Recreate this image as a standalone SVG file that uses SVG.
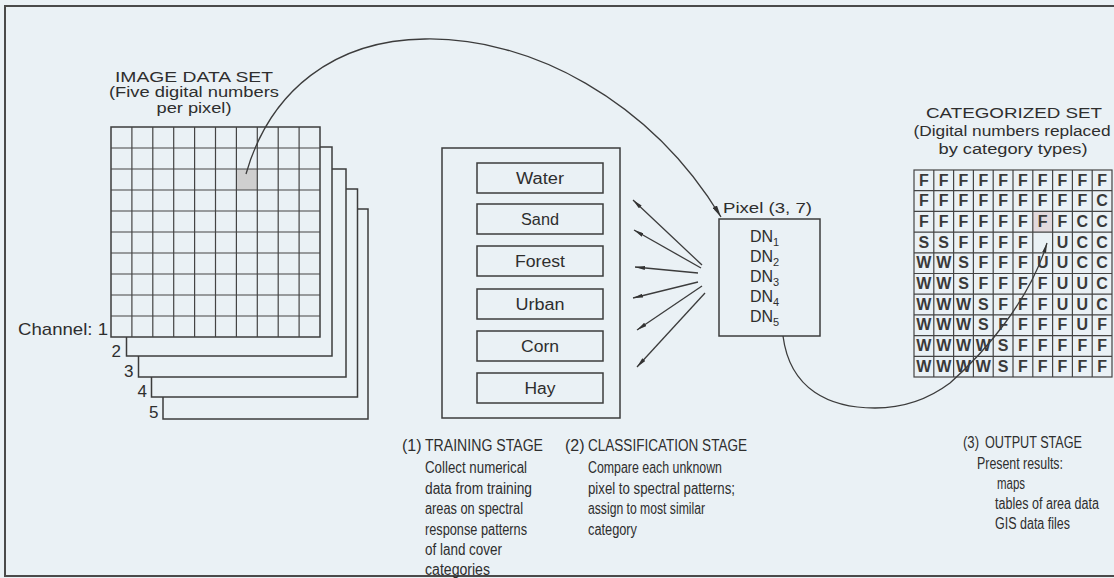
<svg xmlns="http://www.w3.org/2000/svg" width="1114" height="578" viewBox="0 0 1114 578">
<defs>
<style>
.t{font-family:"Liberation Sans",Arial,sans-serif;fill:#2e2e2e;}
.h{font-size:15.5px}
.b{font-size:16px}
.lb{font-size:16px}
.g{font-size:16px;font-weight:bold;fill:#3a3a3a;text-anchor:middle}
.ln{fill:none;stroke:#3c3c3c;stroke-width:1.3}
.box{fill:#eaf1f5;stroke:#3c3c3c;stroke-width:1.5}
.gl{fill:none;stroke:#444;stroke-width:1.2}
.c{text-anchor:middle}
</style>
<marker id="ah" viewBox="0 0 10 4" refX="10" refY="2" markerWidth="10" markerHeight="4" markerUnits="userSpaceOnUse" orient="auto">
<path d="M0,0 L10,2 L0,4 z" fill="#333"/>
</marker>
<marker id="ahB" viewBox="0 0 12 5" refX="12" refY="2.5" markerWidth="12" markerHeight="5" markerUnits="userSpaceOnUse" orient="auto">
<path d="M0,0 L12,2.5 L0,5 z" fill="#333"/>
</marker>
</defs>
<rect x="0" y="0" width="1114" height="578" fill="#eaf1f5"/>
<rect x="5" y="6" width="1125" height="570" fill="none" stroke="#4a4a4a" stroke-width="2"/>

<g id="image-data-set">
<text class="t h c" x="194" y="82" textLength="158" lengthAdjust="spacingAndGlyphs">IMAGE DATA SET</text>
<text class="t h c" x="194" y="97" textLength="170" lengthAdjust="spacingAndGlyphs">(Five digital numbers</text>
<text class="t h c" x="194" y="113" textLength="75" lengthAdjust="spacingAndGlyphs">per pixel)</text>
<rect class="box" x="163" y="209" width="205" height="210"/>
<rect class="box" x="151.5" y="189" width="206" height="208"/>
<rect class="box" x="138.5" y="169" width="207.5" height="208"/>
<rect class="box" x="126.5" y="147" width="205.5" height="209"/>
<rect class="box" x="111" y="127" width="209" height="210"/>
<rect x="236.4" y="169" width="20.9" height="21" fill="#cfcfcf"/>
<path class="gl" d="M131.9 127V337M152.8 127V337M173.7 127V337M194.6 127V337M215.5 127V337M236.4 127V337M257.3 127V337M278.2 127V337M299.1 127V337M111 148H320M111 169H320M111 190H320M111 211H320M111 232H320M111 253H320M111 274H320M111 295H320M111 316H320"/>
<text class="t" x="18" y="335" font-size="17" textLength="90" lengthAdjust="spacingAndGlyphs">Channel: 1</text>
<text class="t" x="121" y="357" font-size="17" text-anchor="end">2</text>
<text class="t" x="133.5" y="377" font-size="17" text-anchor="end">3</text>
<text class="t" x="147" y="397" font-size="17" text-anchor="end">4</text>
<text class="t" x="158.5" y="418" font-size="17" text-anchor="end">5</text>
</g>

<g id="training-set">
<rect class="box" x="442" y="148" width="178" height="270"/>
<rect class="box" x="477" y="163" width="126" height="30"/>
<rect class="box" x="477" y="204" width="126" height="30"/>
<rect class="box" x="477" y="246" width="126" height="30"/>
<rect class="box" x="477" y="289" width="126" height="30"/>
<rect class="box" x="477" y="331" width="126" height="30"/>
<rect class="box" x="477" y="373" width="126" height="30"/>
<text class="t lb c" x="540" y="184" textLength="48" lengthAdjust="spacingAndGlyphs">Water</text>
<text class="t lb c" x="540" y="225" textLength="38" lengthAdjust="spacingAndGlyphs">Sand</text>
<text class="t lb c" x="540" y="267" textLength="50" lengthAdjust="spacingAndGlyphs">Forest</text>
<text class="t lb c" x="540" y="310" textLength="49" lengthAdjust="spacingAndGlyphs">Urban</text>
<text class="t lb c" x="540" y="352" textLength="38" lengthAdjust="spacingAndGlyphs">Corn</text>
<text class="t lb c" x="540" y="394" textLength="31" lengthAdjust="spacingAndGlyphs">Hay</text>
</g>

<g id="pixel">
<text class="t h" x="723" y="213" textLength="89" lengthAdjust="spacingAndGlyphs">Pixel (3, 7)</text>
<rect class="box" x="719" y="219" width="101" height="117"/>
<text class="t lb" x="750" y="242">DN<tspan font-size="11" dy="4">1</tspan></text>
<text class="t lb" x="750" y="262">DN<tspan font-size="11" dy="4">2</tspan></text>
<text class="t lb" x="750" y="282">DN<tspan font-size="11" dy="4">3</tspan></text>
<text class="t lb" x="750" y="302">DN<tspan font-size="11" dy="4">4</tspan></text>
<text class="t lb" x="750" y="322">DN<tspan font-size="11" dy="4">5</tspan></text>
</g>

<g id="categorized-set">
<text class="t h c" x="1014" y="118" textLength="176" lengthAdjust="spacingAndGlyphs">CATEGORIZED SET</text>
<text class="t h c" x="1012" y="136" textLength="197" lengthAdjust="spacingAndGlyphs">(Digital numbers replaced</text>
<text class="t h c" x="1013" y="154" textLength="149" lengthAdjust="spacingAndGlyphs">by category types)</text>
<rect x="1032.8" y="211.4" width="19.8" height="20.7" fill="#e2d9dd"/>
<rect class="gl" x="914" y="170" width="198" height="207" stroke-width="1.5"/>
<path class="gl" d="M933.8 170V377M953.6 170V377M973.4 170V377M993.2 170V377M1013 170V377M1032.8 170V377M1052.6 170V377M1072.4 170V377M1092.2 170V377M914 190.7H1112M914 211.4H1112M914 232.1H1112M914 252.8H1112M914 273.5H1112M914 294.2H1112M914 314.9H1112M914 335.6H1112M914 356.3H1112"/>
<text class="t g" x="923.9 943.7 963.5 983.3 1003.1 1022.9 1042.7 1062.5 1082.3 1102.1" y="185.5">FFFFFFFFFF</text>
<text class="t g" x="923.9 943.7 963.5 983.3 1003.1 1022.9 1042.7 1062.5 1082.3 1102.1" y="206.2">FFFFFFFFFC</text>
<text class="t g" x="923.9 943.7 963.5 983.3 1003.1 1022.9 1042.7 1062.5 1082.3 1102.1" y="226.9">FFFFFFFFCC</text>
<text class="t g" x="923.9 943.7 963.5 983.3 1003.1 1022.9 1062.5 1082.3 1102.1" y="247.6">SSFFFFUCC</text>
<text class="t g" x="923.9 943.7 963.5 983.3 1003.1 1022.9 1042.7 1062.5 1082.3 1102.1" y="268.3">WWSFFFUUCC</text>
<text class="t g" x="923.9 943.7 963.5 983.3 1003.1 1022.9 1042.7 1062.5 1082.3 1102.1" y="289">WWSFFFFUUC</text>
<text class="t g" x="923.9 943.7 963.5 983.3 1003.1 1022.9 1042.7 1062.5 1082.3 1102.1" y="309.7">WWWSFFFUUC</text>
<text class="t g" x="923.9 943.7 963.5 983.3 1003.1 1022.9 1042.7 1062.5 1082.3 1102.1" y="330.4">WWWSFFFFUF</text>
<text class="t g" x="923.9 943.7 963.5 983.3 1003.1 1022.9 1042.7 1062.5 1082.3 1102.1" y="351.1">WWWWSFFFFF</text>
<text class="t g" x="923.9 943.7 963.5 983.3 1003.1 1022.9 1042.7 1062.5 1082.3 1102.1" y="371.8">WWWWSFFFFF</text>
</g>

<g id="connectors">
<path class="ln" d="M246 174 C270 90, 335 40, 425 39 C530 37, 650 100, 721 217" marker-end="url(#ahB)"/>
<path class="ln" d="M702 265 L633 200" marker-end="url(#ah)"/>
<path class="ln" d="M701 268 L634 230" marker-end="url(#ah)"/>
<path class="ln" d="M698 273 L635 267" marker-end="url(#ah)"/>
<path class="ln" d="M698 282 L633 298" marker-end="url(#ah)"/>
<path class="ln" d="M702 286 L637 330" marker-end="url(#ah)"/>
<path class="ln" d="M705 293 L637 367" marker-end="url(#ah)"/>
<path class="ln" d="M783 336 C790 390, 830 408, 875 408 C905 408, 930 398, 950 383 C985 352, 1030 300, 1047 243" marker-end="url(#ah)"/>
</g>

<g id="stage-training">
<text class="t b" x="402" y="451">(1)</text>
<text class="t b" x="425" y="451" textLength="118" lengthAdjust="spacingAndGlyphs">TRAINING STAGE</text>
<text class="t b" x="425" y="473" textLength="102" lengthAdjust="spacingAndGlyphs">Collect numerical</text>
<text class="t b" x="425" y="494" textLength="107" lengthAdjust="spacingAndGlyphs">data from training</text>
<text class="t b" x="425" y="514" textLength="98" lengthAdjust="spacingAndGlyphs">areas on spectral</text>
<text class="t b" x="425" y="535" textLength="102" lengthAdjust="spacingAndGlyphs">response patterns</text>
<text class="t b" x="425" y="555" textLength="77" lengthAdjust="spacingAndGlyphs">of land cover</text>
<text class="t b" x="425" y="575" textLength="65" lengthAdjust="spacingAndGlyphs">categories</text>
</g>
<g id="stage-classification">
<text class="t b" x="565" y="451">(2)</text>
<text class="t b" x="588" y="451" textLength="159" lengthAdjust="spacingAndGlyphs">CLASSIFICATION STAGE</text>
<text class="t b" x="588" y="473" textLength="134" lengthAdjust="spacingAndGlyphs">Compare each unknown</text>
<text class="t b" x="588" y="494" textLength="147" lengthAdjust="spacingAndGlyphs">pixel to spectral patterns;</text>
<text class="t b" x="588" y="514" textLength="117" lengthAdjust="spacingAndGlyphs">assign to most similar</text>
<text class="t b" x="588" y="535" textLength="49" lengthAdjust="spacingAndGlyphs">category</text>
</g>
<g id="stage-output">
<text class="t b" x="963" y="448" textLength="16" lengthAdjust="spacingAndGlyphs">(3)</text>
<text class="t b" x="985" y="448" textLength="97" lengthAdjust="spacingAndGlyphs">OUTPUT STAGE</text>
<text class="t b" x="977" y="469" textLength="86" lengthAdjust="spacingAndGlyphs">Present results:</text>
<text class="t b" x="997" y="489" textLength="28" lengthAdjust="spacingAndGlyphs">maps</text>
<text class="t b" x="995" y="509" textLength="104" lengthAdjust="spacingAndGlyphs">tables of area data</text>
<text class="t b" x="995" y="529" textLength="75" lengthAdjust="spacingAndGlyphs">GIS data files</text>
</g>
</svg>
